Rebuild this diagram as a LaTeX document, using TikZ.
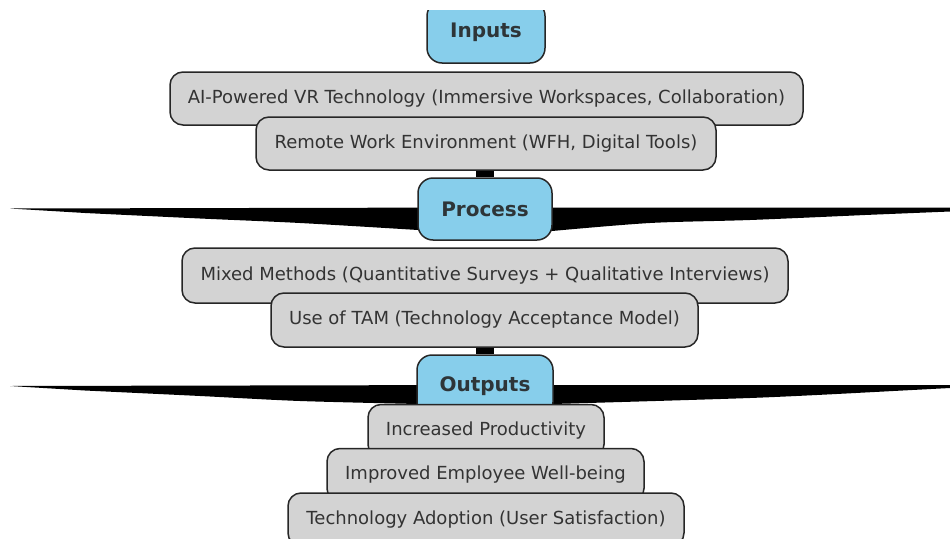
\documentclass[tikz,border=0pt]{standalone}
\usepackage{fontspec}
\setmainfont{DejaVu Sans}
\usetikzlibrary{backgrounds}
\definecolor{boxgray}{HTML}{D3D3D3}
\definecolor{skyfill}{HTML}{87CEEB}
\definecolor{inkline}{HTML}{262626}
\definecolor{labeltext}{HTML}{333333}
\definecolor{headtext}{HTML}{2E3538}
\tikzset{
  item/.style={draw=inkline, line width=1.5pt, fill=boxgray, rounded corners=13pt,
    text=labeltext, font=\fontsize{18}{21}\selectfont, inner sep=0pt},
  stage/.style={draw=inkline, line width=1.5pt, fill=skyfill, rounded corners=15pt,
    text=headtext, font=\fontsize{20}{24}\selectfont\bfseries, inner sep=0pt,
    minimum height=62pt},
  link/.style={line width=18pt, black},
  wedge/.style={fill=black},
}
\begin{document}
\begin{tikzpicture}[x=1pt,y=-1pt]
\useasboundingbox (0,0) rectangle (950,538);
\clip (10,10) rectangle (950,538);

% Inputs stage
\node[stage, minimum width=118pt] (inputs) at (486,32) {Inputs};
\node[item, minimum width=633pt, minimum height=53pt] (ai) at (486.5,98.5)
  {AI-Powered VR Technology (Immersive Workspaces, Collaboration)};
\node[item, minimum width=460pt, minimum height=53pt] (remote) at (486,143.5)
  {Remote Work Environment (WFH, Digital Tools)};

% Process stage
\node[stage, minimum width=134pt] (process) at (485,209) {Process};
\node[item, minimum width=606pt, minimum height=55pt] (mixed) at (485,275.5)
  {Mixed Methods (Quantitative Surveys + Qualitative Interviews)};
\node[item, minimum width=427pt, minimum height=54pt] (tam) at (484.5,320)
  {Use of TAM (Technology Acceptance Model)};

% Outputs stage
\node[stage, minimum width=136pt] (outputs) at (485,386) {Outputs};
\node[item, minimum width=236pt, minimum height=53pt] (prod) at (486,431)
  {Increased Productivity};
\node[item, minimum width=317pt, minimum height=53pt] (well) at (485.5,475)
  {Improved Employee Well-being};
\node[item, minimum width=396pt, minimum height=53pt] (adopt) at (486,519.5)
  {Technology Adoption (User Satisfaction)};

% free ends of the tapered side links
\coordinate (procW) at (10,208.5);
\coordinate (procE) at (950,209.5);
\coordinate (outW) at (10,386);
\coordinate (outE) at (950,386.5);

\begin{pgfonlayer}{background}
  % stage-to-stage links
  \draw[link] (process.north |- remote.south) -- (process.north);
  \draw[link] (outputs.north |- tam.south) -- (outputs.north);
  % tapered links leaving the Process stage
  \begin{scope}[shift={(process.center)}]
    \fill[wedge] (procW) -- (0,-1.5) -- (0,24)
      -- plot[smooth] coordinates {(-67,21) (-185,14) (-285,9.5) (-400,4)} -- cycle;
    \fill[wedge] ([yshift=2pt]procE) -- (0,-1.5) -- (0,24)
      -- plot[smooth] coordinates {(67,22) (165,14) (265,11) (380,6)}
      -- ([yshift=-2pt]procE) -- cycle;
  \end{scope}
  % tapered links leaving the Outputs stage
  \begin{scope}[shift={(outputs.center)}]
    \fill[wedge] (outW) -- (0,-1) -- (0,19)
      -- plot[smooth] coordinates {(-67,18) (-185,15) (-285,10) (-400,4.5)} -- cycle;
    \fill[wedge] ([yshift=1.5pt]outE) -- (0,-1) -- (0,19)
      -- plot[smooth] coordinates {(68,18) (265,12) (380,6.5)}
      -- ([yshift=-1.5pt]outE) -- cycle;
  \end{scope}
\end{pgfonlayer}
\end{tikzpicture}
\end{document}
